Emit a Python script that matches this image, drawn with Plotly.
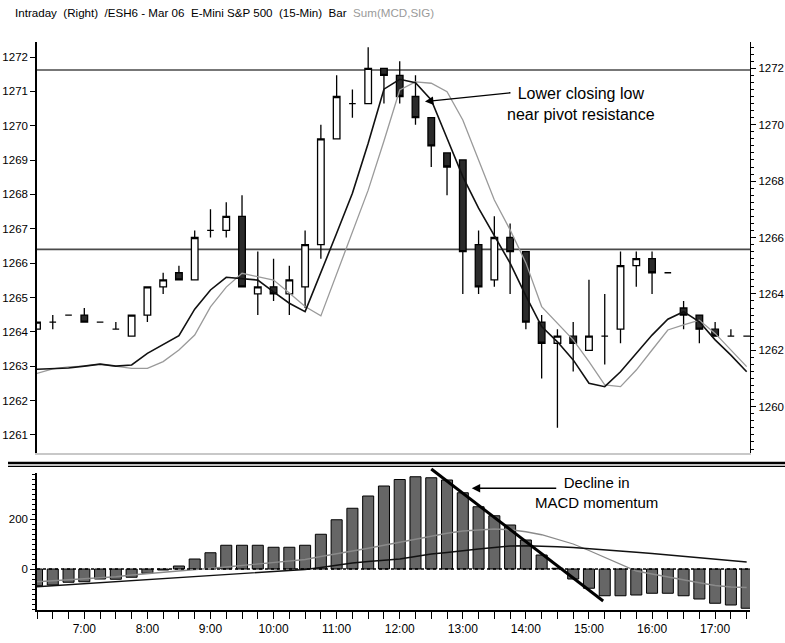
import pandas as pd
import plotly.graph_objects as go

# ---------------- data ----------------
bar_times = pd.date_range("2006-03-06 06:15", periods=46, freq="15min")

opens = [1262.75, 1263.0, 1263.25, 1263.25, 1263.0, 1262.75, 1262.5, 1263.25, 1264.25, 1264.75,
         1264.5, 1266.25, 1266.25, 1266.75, 1264.0, 1264.25, 1264.0, 1264.25, 1265.75, 1269.5,
         1270.75, 1270.75, 1272.0, 1271.75, 1271.0, 1270.25, 1269.0, 1268.75, 1265.75, 1264.5,
         1266.0, 1265.5, 1263.0, 1262.25, 1262.5, 1262.0, 1262.5, 1262.75, 1265.0, 1265.25,
         1264.75, 1263.5, 1263.25, 1262.75, 1262.5, 1262.5]
highs = [1263.0, 1263.25, 1263.25, 1263.5, 1263.0, 1263.0, 1263.25, 1264.25, 1264.75, 1265.0,
         1266.25, 1267.0, 1267.25, 1267.5, 1265.5, 1265.25, 1265.0, 1266.25, 1270.0, 1271.75,
         1271.25, 1272.75, 1272.0, 1272.25, 1271.75, 1270.25, 1269.0, 1268.75, 1266.25, 1266.75,
         1266.5, 1265.5, 1263.25, 1262.75, 1263.0, 1264.5, 1264.0, 1265.5, 1265.5, 1265.5,
         1264.75, 1263.75, 1263.25, 1263.0, 1262.75, 1262.5]
lows = [1262.75, 1262.75, 1263.25, 1263.0, 1263.0, 1262.75, 1262.5, 1263.0, 1264.0, 1264.5,
        1264.5, 1266.0, 1266.0, 1264.25, 1263.25, 1263.75, 1263.25, 1263.5, 1265.25, 1269.5,
        1270.25, 1270.75, 1270.75, 1270.75, 1270.0, 1268.5, 1267.5, 1264.0, 1264.0, 1264.25,
        1264.0, 1262.75, 1261.0, 1259.25, 1261.25, 1262.0, 1261.5, 1262.25, 1264.25, 1264.0,
        1264.75, 1262.75, 1262.25, 1262.5, 1262.5, 1262.5]
closes = [1263.0, 1263.0, 1263.25, 1263.0, 1263.0, 1262.75, 1263.25, 1264.25, 1264.5, 1264.5,
          1266.0, 1266.25, 1266.75, 1264.25, 1264.25, 1264.0, 1264.5, 1265.75, 1269.5, 1271.0,
          1270.75, 1272.0, 1271.75, 1271.0, 1270.25, 1269.25, 1268.5, 1265.5, 1264.25, 1266.0,
          1265.5, 1263.0, 1262.25, 1262.5, 1262.25, 1262.5, 1262.5, 1265.0, 1265.25, 1264.75,
          1264.75, 1263.25, 1262.75, 1262.5, 1262.5, 1262.5]

avg_fast = [1261.33, 1261.35, 1261.37, 1261.44, 1261.51, 1261.44, 1261.48, 1261.89, 1262.22, 1262.52,
            1263.46, 1264.14, 1264.59, 1264.55, 1264.49, 1264.07, 1263.67, 1263.37, 1264.73, 1266.15,
            1267.57, 1269.34, 1271.26, 1271.61, 1271.49, 1270.88, 1269.52, 1268.16, 1267.04, 1266.09,
            1265.09, 1263.93, 1262.84, 1262.30, 1261.66, 1260.83, 1260.71, 1261.24, 1261.89, 1262.54,
            1263.10, 1263.37, 1263.01, 1262.37, 1261.83, 1261.24]
avg_slow = [1261.18, 1261.34, 1261.41, 1261.44, 1261.51, 1261.44, 1261.36, 1261.36, 1261.60, 1262.01,
            1262.54, 1263.54, 1264.24, 1264.73, 1264.61, 1264.49, 1264.03, 1263.55, 1263.22, 1264.72,
            1266.16, 1267.68, 1269.42, 1271.23, 1271.52, 1271.47, 1271.17, 1270.17, 1268.75, 1267.33,
            1266.27, 1265.10, 1263.55, 1262.96, 1262.37, 1261.60, 1260.77, 1260.71, 1261.30, 1262.01,
            1262.72, 1262.90, 1263.07, 1262.60, 1262.01, 1261.42]

macd_hist = [-67, -64, -53, -51, -40, -41, -33, -17, -4, 12,
             40, 65, 95, 95, 95, 87, 87, 95, 139, 197,
             243, 292, 332, 358, 369, 365, 356, 305, 249, 213,
             176, 116, 56, 3, -40, -77, -107, -107, -104, -97,
             -97, -107, -120, -137, -144, -157]
macd_line = [-51, -47, -44, -41, -37, -31, -24, -18, -12, -7,
             -2, 3, 8, 14, 22, 28, 32, 38, 50, 60,
             71, 83, 95, 107, 122, 134, 143, 152, 156, 160,
             157, 149, 137, 119, 100, 74, 47, 19, -8, -20,
             -32, -46, -55, -66, -72, -74]
signal_line = [-71, -67, -62, -58, -54, -50, -46, -42, -38, -34,
               -30, -26, -22, -18, -14, -10, -6, -2, 6, 16,
               24, 30, 34, 40, 50, 60, 66, 74, 80, 86,
               92, 93, 92, 89, 86, 82, 78, 72, 67, 62,
               56, 52, 46, 40, 34, 28]

pivot_levels = [1271.94, 1265.58]
right_ticks = [1260, 1262, 1264, 1266, 1268, 1270, 1272]
hour_ticks = pd.date_range("2006-03-06 07:00", periods=11, freq="60min")
hour_labels = ["7:00", "8:00", "9:00", "10:00", "11:00", "12:00", "13:00", "14:00", "15:00", "16:00", "17:00"]
macd_ticks = [0, 200]

x_range = ["2006-03-06 06:15:00", "2006-03-06 17:33:10"]

# ---------------- geometry ----------------
W, H = 785, 643
def px(x):
    return x / W
def py(y):
    return 1 - y / H

SANS = "Liberation Sans, Arial, sans-serif"
YFONT = dict(family=SANS, size=11.5, color="black")
XFONT = dict(family=SANS, size=12, color="black")

fig = go.Figure()

fig.add_trace(go.Candlestick(
    x=bar_times, open=opens, high=highs, low=lows, close=closes,
    xaxis="x", yaxis="y",
    increasing=dict(line=dict(color="black", width=1.3), fillcolor="white"),
    decreasing=dict(line=dict(color="black", width=1.3), fillcolor="#2b2b2b"),
    whiskerwidth=0, showlegend=False, hoverinfo="skip"))
fig.add_trace(go.Scatter(x=bar_times, y=avg_slow, mode="lines", xaxis="x", yaxis="y",
                         line=dict(color="#9a9a9a", width=1.3), showlegend=False, hoverinfo="skip"))
fig.add_trace(go.Scatter(x=bar_times, y=avg_fast, mode="lines", xaxis="x", yaxis="y",
                         line=dict(color="#111111", width=1.6), showlegend=False, hoverinfo="skip"))
# placeholder trace so the left-hand price scale is drawn
fig.add_trace(go.Scatter(x=[bar_times[0]], y=[None], mode="lines", xaxis="x", yaxis="y3",
                         showlegend=False, hoverinfo="skip"))

fig.add_trace(go.Bar(x=bar_times, y=macd_hist, xaxis="x2", yaxis="y2", width=630000,
                     marker=dict(color="#666666", line=dict(color="black", width=1)),
                     showlegend=False, hoverinfo="skip"))
fig.add_trace(go.Scatter(x=bar_times, y=macd_line, mode="lines", xaxis="x2", yaxis="y2",
                         line=dict(color="#8a8a8a", width=1.3), showlegend=False, hoverinfo="skip"))
fig.add_trace(go.Scatter(x=bar_times, y=signal_line, mode="lines", xaxis="x2", yaxis="y2",
                         line=dict(color="#111111", width=1.4), showlegend=False, hoverinfo="skip"))

xdom = [px(37), px(750)]

shapes = []
for lvl in pivot_levels:
    shapes.append(dict(type="line", xref="x domain", x0=0, x1=1, yref="y", y0=lvl, y1=lvl,
                       line=dict(color="#4a4a4a", width=1.6), layer="below"))
shapes.append(dict(type="line", xref="x2 domain", x0=0, x1=1, yref="y2", y0=0, y1=0,
                   line=dict(color="black", width=1.5, dash="dot"), layer="above"))
shapes.append(dict(type="line", xref="x2", yref="paper",
                   x0="2006-03-06 12:30:00", y0=py(469), x1="2006-03-06 15:13:30", y1=py(601),
                   line=dict(color="black", width=3)))
shapes.append(dict(type="line", xref="paper", yref="paper", x0=px(8), x1=1, y0=py(463), y1=py(463),
                   line=dict(color="black", width=2.6)))
shapes.append(dict(type="line", xref="paper", yref="paper", x0=px(8), x1=1, y0=py(466.3), y1=py(466.3),
                   line=dict(color="black", width=1.3)))

NB = "\u00a0"
title_txt = (f"Intraday{NB*2}(Right){NB*2}/ESH6 - Mar 06{NB*2}E-Mini S&P 500{NB*2}(15-Min){NB*2}Bar{NB*2}"
             f"<span style='color:#9a9a9a'>Sum(MCD,SIG)</span>")

annotations = [
    dict(text=title_txt, xref="paper", yref="paper", x=px(13), y=py(12.5), xanchor="left", yanchor="middle",
         showarrow=False, font=dict(family=SANS, size=11.6, color="black")),
    dict(text="Lower closing low<br>near pivot resistance", xref="paper", yref="paper",
         x=px(581), y=py(104), xanchor="center", yanchor="middle", showarrow=False, align="center",
         font=dict(family=SANS, size=16, color="black")),
    dict(text="", xref="x", yref="y", x="2006-03-06 12:24:00", y=1270.82, ax=87, ay=-9,
         showarrow=True, arrowhead=2, arrowsize=1.3, arrowwidth=1.3, arrowcolor="black"),
    dict(text="Decline in<br>MACD momentum", xref="paper", yref="paper",
         x=px(596.5), y=py(492), xanchor="center", yanchor="middle", showarrow=False, align="center",
         font=dict(family=SANS, size=15, color="black")),
    dict(text="", xref="x2", yref="y2", x="2006-03-06 13:08:30", y=323, ax=86, ay=0,
         showarrow=True, arrowhead=2, arrowsize=1.3, arrowwidth=1.3, arrowcolor="black"),
]

fig.update_layout(
    width=W, height=H, margin=dict(l=0, r=0, t=0, b=0, autoexpand=False),
    paper_bgcolor="white", plot_bgcolor="white", showlegend=False,
    boxgap=0.4,
    shapes=shapes, annotations=annotations,
    xaxis=dict(domain=xdom, anchor="y", range=x_range, type="date", automargin=False,
               showticklabels=False, ticks="", showgrid=False, zeroline=False,
               showline=True, linecolor="#c8c8c8", linewidth=1.5,
               rangeslider=dict(visible=False)),
    yaxis=dict(domain=[py(453), py(42)], anchor="x", side="right", automargin=False,
               range=[1258.358, 1272.933], tickmode="array", tickvals=right_ticks,
               ticks="outside", ticklen=5, tickwidth=1, tickcolor="black",
               minor=dict(dtick=0.25, tick0=1260, ticklen=3, ticks="outside", tickcolor="black"),
               showline=True, linecolor="black", linewidth=1.3,
               showgrid=False, zeroline=False, tickfont=YFONT),
    yaxis3=dict(overlaying="y", anchor="x", side="left", automargin=False,
                range=[1260.475, 1272.437], tick0=0, dtick=1,
                ticks="outside", ticklen=5, tickcolor="black",
                showline=True, linecolor="black", linewidth=1.5,
                showgrid=False, zeroline=False, tickfont=YFONT),
    xaxis2=dict(domain=xdom, anchor="y2", range=x_range, type="date", automargin=False,
                tickmode="array", tickvals=hour_ticks, ticktext=hour_labels,
                ticks="outside", ticklen=7, tickcolor="black",
                minor=dict(dtick=900000, ticklen=7, ticks="outside", tickcolor="black"),
                showline=True, linecolor="black", linewidth=1.5,
                showgrid=False, zeroline=False, tickfont=XFONT),
    yaxis2=dict(domain=[py(610), py(473)], anchor="x2", range=[-164, 384], automargin=False,
                tickmode="array", tickvals=macd_ticks,
                ticks="outside", ticklen=5, tickcolor="black",
                minor=dict(dtick=20, ticklen=3, ticks="outside", tickcolor="black"),
                showline=True, linecolor="black", linewidth=1.5,
                showgrid=False, zeroline=False, tickfont=YFONT),
)

fig.write_html("out.html", config={"displayModeBar": False},
               post_script="document.body.style.margin='0';document.body.style.overflow='hidden';")
